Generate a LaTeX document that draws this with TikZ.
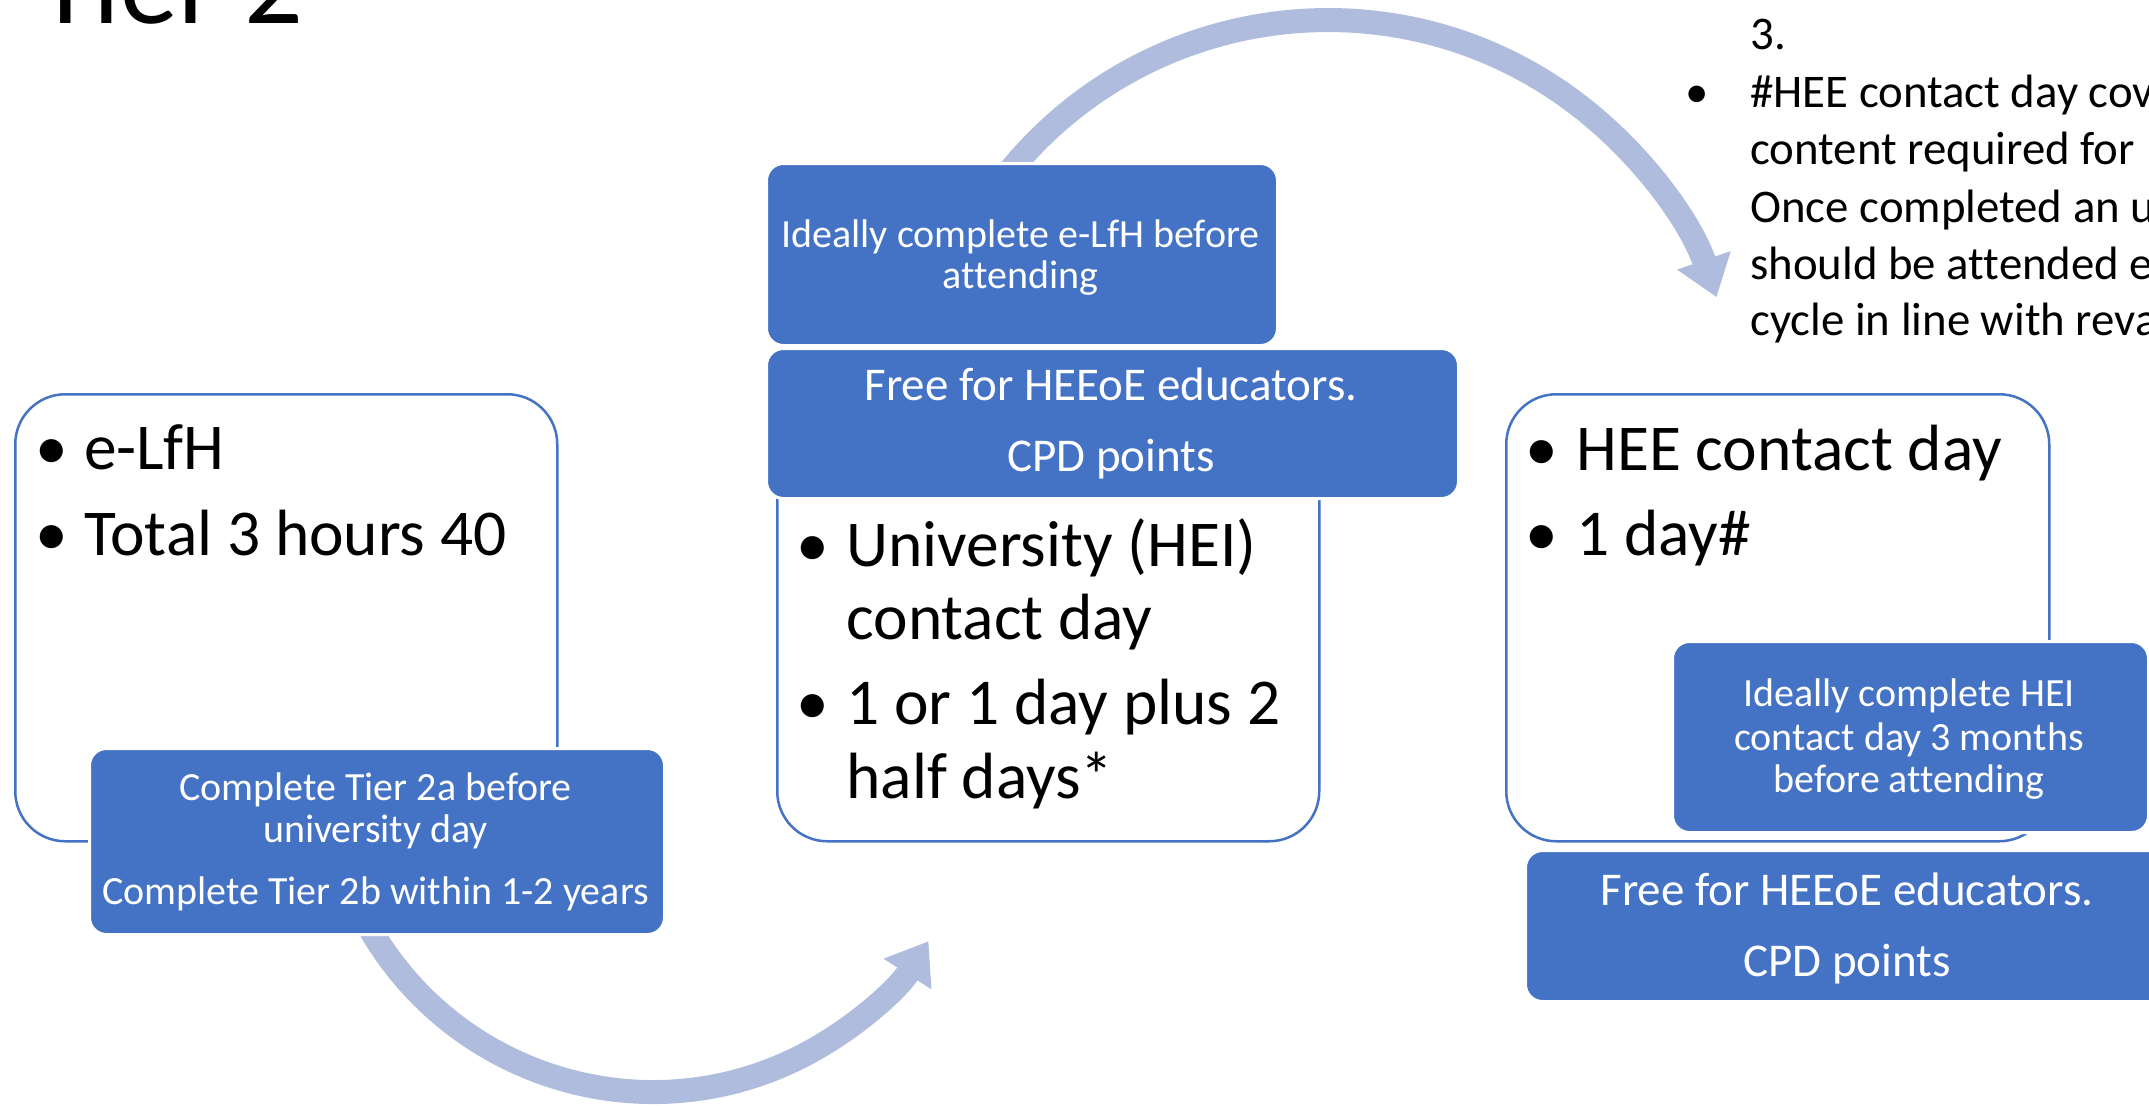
\documentclass[tikz,border=0pt]{standalone}
\usepackage{fontspec}
\setmainfont{Carlito}[Ligatures={NoCommon}]
\usetikzlibrary{arrows.meta}
\definecolor{accblue}{HTML}{4472C4}
\definecolor{arrowblue}{RGB}{175,188,222}
\begin{document}
\begin{tikzpicture}[x=0.5pt,y=-0.5pt,
  wbox/.style={draw=accblue, line width=1.25pt, fill=white, rounded corners=25pt, anchor=north west, inner sep=0pt},
  bbox/.style={draw=white, line width=1.5pt, fill=accblue, rounded corners=8.5pt, anchor=north west, inner sep=0pt},
  cyc/.style={draw=arrowblue, line width=12pt, -{Triangle[width=27pt,length=19.5pt]}},
  big/.style={font=\fontsize{32.7pt}{39pt}\selectfont, inner sep=0pt, text=black},
  small/.style={font=\fontsize{20pt}{24pt}\selectfont, inner sep=0pt, text=white, anchor=base},
  mid/.style={font=\fontsize{23.5pt}{28pt}\selectfont, inner sep=0pt, text=white, anchor=base},
  note/.style={font=\fontsize{23.4pt}{28pt}\selectfont, inner sep=0pt, text=black},
  bul/.style={anchor=base},
  txt/.style={anchor=base west},
]
\useasboundingbox (0,0) rectangle (2149,1105);
\clip (0,0) rectangle (2149,1105);

% title
\node[anchor=base west, inner sep=0pt, font=\fontsize{58pt}{70pt}\selectfont] (title) at (37,23) {Tier 2};

% cycle arrows
\coordinate (a1s) at (364.3,918.5);
\draw[cyc] (a1s) arc[start angle=152, end angle=32.6, radius=327];
\coordinate (a2s) at (1004.1,178);
\draw[cyc] (a2s) arc[start angle=-142, end angle=-19, radius=411];

% white boxes and blue notes
\node[wbox, minimum width=271pt, minimum height=223.5pt] (box1) at (14,393) {};
\node[bbox, minimum width=287.5pt, minimum height=93pt] (blue1) at (88,747) {};

\node[wbox, minimum width=271pt, minimum height=223.5pt] (box2) at (776,393) {};
\node[bbox, minimum width=255.5pt, minimum height=91pt] (topblue) at (765,162) {};
\node[bbox, minimum width=346pt, minimum height=75pt] (freemid) at (765,347) {};

\node[wbox, minimum width=271.5pt, minimum height=223.5pt] (box3) at (1505,393) {};
\node[bbox, minimum width=238pt, minimum height=95.5pt] (blueright) at (1671,640) {};
\node[bbox, minimum width=323pt, minimum height=75.5pt] (freeright) at (1524,849) {};

% box 1 text
\node[big, bul] (b1a) at (52,469) {•};
\node[big, txt] (t1a) at (84,469) {e-LfH};
\node[big, bul] (b1b) at (52,555) {•};
\node[big, txt] (t1b) at (84,555) {Total 3 hours 40};

% box 2 text
\node[big, bul] (b2a) at (813,566) {•};
\node[big, txt] (t2a) at (846,566) {University (HEI)};
\node[big, txt] (t2b) at (846,639) {contact day};
\node[big, bul] (b2c) at (813,724) {•};
\node[big, txt] (t2c) at (846,724) {1 or 1 day plus 2};
\node[big, txt] (t2d) at (846,798) {half days*};

% box 3 text
\node[big, bul] (b3a) at (1542,470) {•};
\node[big, txt] (t3a) at (1576,470) {HEE contact day};
\node[big, bul] (b3b) at (1542,555) {•};
\node[big, txt] (t3b) at (1576,555) {1 day\#};

% blue note texts
\node[small] (n1a) at (375.5,800) {Complete Tier 2a before};
\node[small] (n1b) at (375.5,842) {university day};
\node[small] (n1c) at (375.5,904) {Complete Tier 2b within 1-2 years};

\node[small] (n2a) at (1020.5,247) {Ideally complete e-LfH before};
\node[small] (n2b) at (1020.5,288) {attending};

\node[mid] (f1a) at (1111,400) {Free for HEEoE educators.};
\node[mid] (f1b) at (1111,471) {CPD points};

\node[small] (n3a) at (1909,706) {Ideally complete HEI};
\node[small] (n3b) at (1909,750) {contact day 3 months};
\node[small] (n3c) at (1909,792) {before attending};

\node[mid] (f2a) at (1847,905) {Free for HEEoE educators.};
\node[mid] (f2b) at (1847,976) {CPD points};

% top right notes
\node[note, txt] (r0) at (1750,49) {3.};
\node[note, bul] (rb) at (1697,107) {•};
\node[note, txt] (r1) at (1750,107) {\#HEE contact day cov};
\node[note, txt] (r2) at (1750,164) {content required for};
\node[note, txt] (r3) at (1750,222) {Once completed an u};
\node[note, txt] (r4) at (1750,279) {should be attended e};
\node[note, txt] (r5) at (1750,335) {cycle in line with reva};
\end{tikzpicture}
\end{document}
